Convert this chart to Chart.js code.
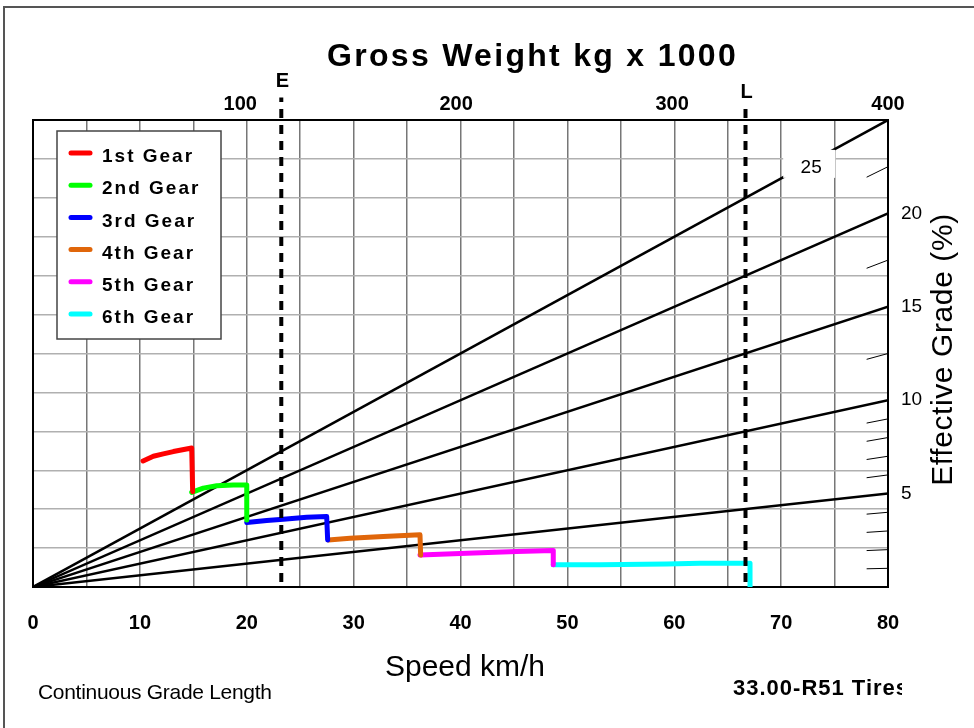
<!DOCTYPE html>
<html lang="en">
<head>
    <meta charset="UTF-8">
    <title>Gross Weight kg x 1000</title>
    <script src="https://cdn.jsdelivr.net/npm/chart.js"></script>
    <style>
        body { margin: 0; background: #fff; }
        #wrap { position: relative; width: 974px; height: 728px; overflow: hidden; }
        #frame { position: absolute; left: 3px; top: 6px; width: 990px; height: 740px; border-left: 2px solid #555; border-top: 2px solid #555; }
        canvas { position: absolute; left: 0; top: 0; }
    </style>
</head>
<body>
<div id="wrap">
    <div id="frame"></div>
    <canvas id="gradeChart" width="974" height="728"></canvas>
</div>

<script>
    // gear curves: speed (km/h) and rimpull in grid units (0-12)
    const gearNames = ['1st Gear', '2nd Gear', '3rd Gear', '4th Gear', '5th Gear', '6th Gear'];
    const gear1Speed = [10.3, 11.26, 12.19, 13.13, 14.85, 14.94];
    const gear1Pull  = [3.24, 3.36, 3.42, 3.48, 3.57, 2.45];
    const gear2Speed = [14.85, 15.93, 17.19, 18.74, 20.0, 20.0];
    const gear2Pull  = [2.43, 2.54, 2.60, 2.62, 2.62, 1.72];
    const gear3Speed = [20.0, 21.87, 23.42, 25.61, 27.48, 27.57];
    const gear3Pull  = [1.66, 1.71, 1.74, 1.79, 1.81, 1.21];
    const gear4Speed = [27.63, 29.66, 32.78, 36.21, 36.27];
    const gear4Pull  = [1.21, 1.25, 1.30, 1.34, 0.82];
    const gear5Speed = [36.21, 40.58, 45.26, 48.68, 48.68];
    const gear5Pull  = [0.82, 0.87, 0.91, 0.94, 0.57];
    const gear6Speed = [48.68, 53.05, 59.29, 62.41, 67.09, 67.09];
    const gear6Pull  = [0.57, 0.57, 0.59, 0.61, 0.61, 0.01];

    // effective grade lines (%) and the short minor marks at the right edge
    const gradeLines = [5, 10, 15, 20, 25];
    const gradeMinor = [1, 2, 3, 4, 6, 7, 8, 9, 12.5, 17.5, 22.5];

    // gross weight scale (kg x 1000) and empty / loaded marks
    const weightTicks = [100, 200, 300, 400];
    const weightNames = ['E', 'L'];
    const weightValues = [119, 334];

    const gearColors = ['#ff0000', '#00ff00', '#0000ff', '#e0660a', '#ff00ff', '#00ffff'];
    const FONT = '"Liberation Sans", Arial, sans-serif';

    function pts(xs, ys) {
        return xs.map((x, i) => ({ x: x, y: ys[i] }));
    }

    const gearData = [
        pts(gear1Speed, gear1Pull), pts(gear2Speed, gear2Pull), pts(gear3Speed, gear3Pull),
        pts(gear4Speed, gear4Pull), pts(gear5Speed, gear5Pull), pts(gear6Speed, gear6Pull)
    ];

    const datasets = [];

    // E / L dashed lines, drawn on top
    weightValues.forEach((w, i) => {
        datasets.push({
            label: weightNames[i],
            data: [{ x: w, y: 0.27 }, { x: w, y: i === 0 ? 26.2 : 25.7 }],
            xAxisID: 'xw', yAxisID: 'yg',
            borderColor: '#000', borderWidth: 4, borderDash: [9, 7],
            clip: false, order: 0
        });
    });

    gearData.forEach((d, i) => {
        datasets.push({
            label: gearNames[i], isGear: true,
            data: d,
            xAxisID: 'x', yAxisID: 'y',
            borderColor: gearColors[i], borderWidth: 5,
            borderCapStyle: 'round', borderJoinStyle: 'round',
            order: 1
        });
    });

    gradeLines.forEach(g => {
        datasets.push({
            label: g + '%',
            data: [{ x: 0, y: 0 }, { x: 80, y: g }],
            xAxisID: 'x', yAxisID: 'yg',
            borderColor: '#000', borderWidth: 2.5,
            order: 2
        });
    });

    const minorPts = [];
    gradeMinor.forEach(g => {
        minorPts.push({ x: 78, y: g * 78 / 80 }, { x: 80, y: g }, { x: 80, y: null });
    });
    datasets.push({
        label: 'minor', data: minorPts,
        xAxisID: 'x', yAxisID: 'yg',
        borderColor: '#000', borderWidth: 1, spanGaps: false,
        order: 2
    });

    // titles, legend, labels that sit outside the scales
    const decor = {
        id: 'decor',
        afterDatasetsDraw(chart) {
            const { ctx, chartArea, scales } = chart;
            const xs = scales.x, yg = scales.yg, xw = scales.xw;
            ctx.save();

            // "25" label breaking the top grade line
            const lx = xs.getPixelForValue(73);
            const ly = yg.getPixelForValue(25 * 73 / 80);
            ctx.fillStyle = '#fff';
            ctx.fillRect(lx - 30, ly - 11, 52, 28);
            ctx.fillStyle = '#000';
            ctx.font = '19px ' + FONT;
            ctx.textAlign = 'center';
            ctx.textBaseline = 'middle';
            ctx.fillText('25', lx - 2, ly + 7);

            // legend
            const bx = chartArea.left + 24, by = chartArea.top + 11;
            ctx.fillStyle = '#fff';
            ctx.fillRect(bx, by, 164, 208);
            ctx.strokeStyle = '#444';
            ctx.lineWidth = 1.5;
            ctx.strokeRect(bx, by, 164, 208);
            ctx.font = 'bold 19px ' + FONT;
            ctx.letterSpacing = '2px';
            ctx.textAlign = 'left';
            ctx.lineCap = 'round';
            chart.data.datasets.filter(d => d.isGear).forEach((d, i) => {
                const ry = by + 22 + i * 32.2;
                ctx.strokeStyle = d.borderColor;
                ctx.lineWidth = 5;
                ctx.beginPath();
                ctx.moveTo(bx + 14, ry);
                ctx.lineTo(bx + 33, ry);
                ctx.stroke();
                ctx.fillStyle = '#000';
                ctx.fillText(d.label, bx + 45, ry + 4);
            });

            // E / L letters
            ctx.font = 'bold 20px ' + FONT;
            ctx.letterSpacing = '0px';
            ctx.textAlign = 'center';
            ctx.fillText(weightNames[0], xw.getPixelForValue(weightValues[0]) + 1, 81);
            ctx.fillText(weightNames[1], xw.getPixelForValue(weightValues[1]) + 1, 92);

            // main title
            ctx.font = 'bold 32px ' + FONT;
            ctx.letterSpacing = '2.3px';
            ctx.textAlign = 'left';
            ctx.fillText('Gross Weight kg x 1000', 327, 57);

            // axis titles
            ctx.letterSpacing = '0px';
            ctx.font = '30px ' + FONT;
            ctx.textAlign = 'center';
            ctx.fillText('Speed km/h', 465, 668);
            ctx.save();
            ctx.translate(chartArea.right + 56, (chartArea.top + chartArea.bottom) / 2 - 4);
            ctx.rotate(-Math.PI / 2);
            ctx.letterSpacing = '0.6px';
            ctx.fillText('Effective Grade (%)', 0, 0);
            ctx.restore();

            // footer
            ctx.font = '21px ' + FONT;
            ctx.letterSpacing = '-0.3px';
            ctx.textAlign = 'left';
            ctx.fillText('Continuous Grade Length', 38, 693);
            ctx.beginPath();
            ctx.rect(700, 670, 202, 40);
            ctx.clip();
            ctx.font = 'bold 22px ' + FONT;
            ctx.letterSpacing = '1px';
            ctx.fillText('33.00-R51 Tires', 733, 689);
            ctx.restore();
        }
    };

    const ctx = document.getElementById('gradeChart').getContext('2d');
    const gradeChart = new Chart(ctx, {
        type: 'scatter',
        data: { datasets: datasets },
        options: {
            responsive: false,
            animation: false,
            devicePixelRatio: 1,
            showLine: true,
            elements: { point: { radius: 0 }, line: { tension: 0 } },
            layout: { padding: { left: 33, top: 0, right: 0, bottom: 0 } },
            plugins: { legend: { display: false }, tooltip: { enabled: false } },
            scales: {
                x: {
                    type: 'linear', position: 'bottom', min: 0, max: 80,
                    ticks: {
                        stepSize: 5, autoSkip: false, maxRotation: 0, padding: 24,
                        color: '#000', font: { family: FONT, size: 20, weight: 'bold' },
                        callback: v => (v % 10 === 0 ? v : '')
                    },
                    grid: { color: '#777', lineWidth: 1.5, drawTicks: false },
                    border: { color: '#000', width: 2 },
                    afterFit: s => { s.height = 141; }
                },
                xw: {
                    type: 'linear', position: 'top', min: 4, max: 400,
                    afterBuildTicks: s => { s.ticks = weightTicks.map(v => ({ value: v })); },
                    ticks: {
                        autoSkip: false, maxRotation: 0, padding: 4,
                        color: '#000', font: { family: FONT, size: 20, weight: 'bold' }
                    },
                    grid: { display: false, drawTicks: false },
                    border: { display: true, color: '#000', width: 2 },
                    afterFit: s => { s.height = 120; }
                },
                y: {
                    type: 'linear', position: 'left', min: 0, max: 12,
                    ticks: { stepSize: 1, display: false },
                    grid: { color: '#b0b0b0', lineWidth: 1.5, drawTicks: false },
                    border: { color: '#000', width: 2 },
                    afterFit: s => { s.width = 0; }
                },
                yg: {
                    type: 'linear', position: 'right', min: 0, max: 25,
                    ticks: {
                        stepSize: 5, padding: 13,
                        color: '#000', font: { family: FONT, size: 19 },
                        callback: v => (v > 0 && v < 25 ? v : '')
                    },
                    grid: { display: false, drawTicks: false },
                    border: { display: true, color: '#000', width: 2 },
                    afterFit: s => { s.width = 86; }
                }
            }
        },
        plugins: [decor]
    });
</script>
</body>
</html>
